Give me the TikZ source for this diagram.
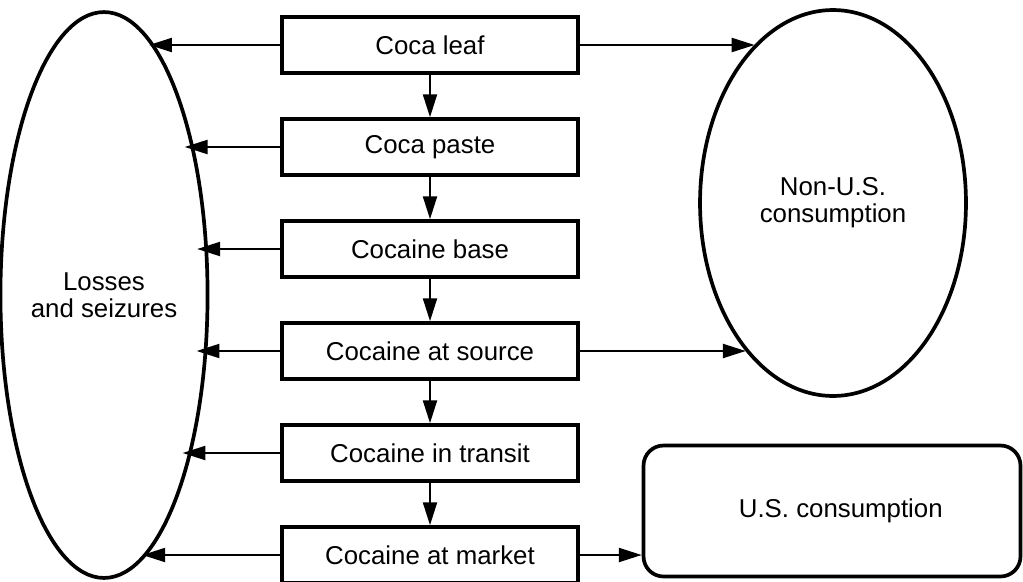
\documentclass[tikz,border=0pt]{standalone}
\usepackage{fontspec}
\setmainfont{Liberation Sans}
\usetikzlibrary{shapes.geometric,arrows.meta}
\tikzset{
  stage/.style={draw,line width=2.1pt,minimum width=5.92cm,minimum height=1.12cm,inner sep=0pt},
  sink/.style={draw,ellipse,line width=2.1pt,inner sep=0pt,align=center},
  flow/.style={->,line width=1.1pt}
}
\begin{document}
\begin{tikzpicture}[x=0.02cm,y=-0.02cm,>={Triangle[length=13pt,width=8pt]},font=\fontsize{14.7}{15.5}\selectfont]
\useasboundingbox (0,0) rectangle (1023,581);
% sinks
\node[sink,minimum width=3.72cm,minimum height=11.32cm] (loss) at (104,295) {Losses\\and seizures};
\node[sink,minimum width=5.32cm,minimum height=7.72cm] (nonus) at (833,203) {Non-U.S.\\consumption};
\node[draw,line width=2.1pt,rounded corners=0.4cm,minimum width=7.54cm,minimum height=2.62cm] (us) at (832,511) {\hspace{10pt}U.S. consumption};
% chain of stages
\foreach \n/\t [count=\i from 0] in {leaf/Coca leaf,paste/Coca paste,base/Cocaine base,source/Cocaine at source,transit/Cocaine in transit,market/Cocaine at market}
  \node[stage] (\n) at (430,{45+102*\i}) {\t};
\foreach \a/\b in {leaf/paste,paste/base,base/source,source/transit,transit/market}
  \draw[flow] (\a) -- (\b);
% losses on the left
\foreach \n [count=\i from 0] in {leaf,paste,base,source,transit,market}{
  \pgfmathsetmacro\yy{45+102*\i}
  \pgfmathsetmacro\xx{104+94.5*sqrt(1-((\yy-295)/284.5)^2)}
  \coordinate (\n-l) at (\xx,\yy);
  \draw[flow] (\n.west) -- (\n-l);
}
% consumption on the right
\foreach \n/\yy in {leaf/45,source/351}{
  \pgfmathsetmacro\xx{833-134.5*sqrt(1-((\yy-203)/194.5)^2)}
  \coordinate (\n-r) at (\xx,\yy);
  \draw[flow] (\n.east) -- (\n-r);
}
\draw[flow] (market.east) -- (market.east -| us.west);
\end{tikzpicture}
\end{document}
